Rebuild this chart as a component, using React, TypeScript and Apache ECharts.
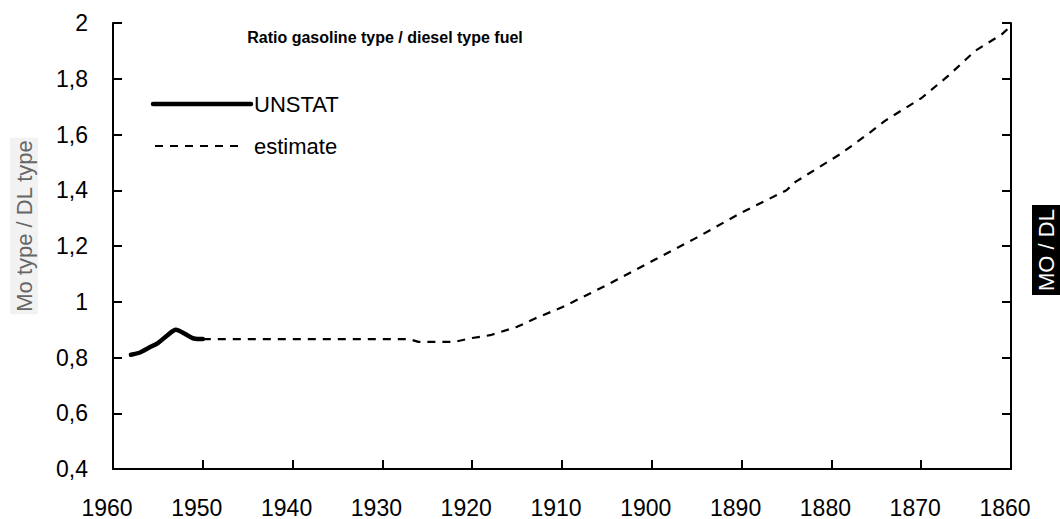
import React, { useEffect, useRef } from "react";
import * as echarts from "echarts";

const unstatYears = [1958, 1957, 1956, 1955, 1954, 1953, 1952, 1951, 1950];
const unstatValues = [0.81, 0.818, 0.835, 0.852, 0.878, 0.9, 0.885, 0.868, 0.866];

const estimateYears = [1950, 1927, 1926, 1922, 1920, 1918, 1917, 1915, 1913, 1910, 1905, 1900, 1895, 1890, 1885, 1884, 1880, 1879, 1876, 1874, 1870, 1867, 1865, 1864, 1863, 1861, 1860];
const estimateValues = [0.866, 0.866, 0.856, 0.856, 0.87, 0.88, 0.89, 0.91, 0.94, 0.98, 1.06, 1.145, 1.23, 1.32, 1.4, 1.43, 1.51, 1.53, 1.6, 1.65, 1.73, 1.81, 1.87, 1.9, 1.92, 1.96, 1.99];

const seriesNames = ["UNSTAT", "estimate"];
const yTicks = [0.4, 2, 0.2];
const xRange = [1860, 1960, 10];

const FONT = "Liberation Sans, Arial, sans-serif";

export default function App() {
  const ref = useRef<HTMLDivElement>(null);
  useEffect(() => {
    if (!ref.current) return;
    const chart = echarts.init(ref.current, undefined, { renderer: "svg" });
    const fmt = (v: number) => String(+v.toFixed(1)).replace(".", ",");
    const axisCommon = {
      axisLine: { show: true, lineStyle: { color: "#000", width: 2 } },
      axisTick: { show: true, inside: true, length: 9, lineStyle: { color: "#000", width: 2 } },
      splitLine: { show: false },
    };
    chart.setOption({
      animation: false,
      backgroundColor: "#ffffff",
      grid: { left: 113, right: 49, top: 23, bottom: 50, containLabel: false },
      xAxis: {
        type: "value",
        min: xRange[0],
        max: xRange[1],
        interval: xRange[2],
        inverse: true,
        ...axisCommon,
        axisLabel: {
          color: "#000",
          fontSize: 23,
          fontFamily: FONT,
          margin: 27,
          padding: [0, 12, 0, 0],
          formatter: (v: number) => String(v),
        },
      },
      yAxis: [
        {
          type: "value",
          min: yTicks[0],
          max: yTicks[1],
          interval: yTicks[2],
          position: "left",
          ...axisCommon,
          axisLabel: { color: "#000", fontSize: 23, fontFamily: FONT, margin: 25, formatter: fmt },
        },
        {
          type: "value",
          min: yTicks[0],
          max: yTicks[1],
          interval: yTicks[2],
          position: "right",
          ...axisCommon,
          axisLabel: { show: false },
        },
      ],
      graphic: [
        {
          type: "text",
          x: 385,
          y: 37,
          style: {
            text: "Ratio gasoline type / diesel type fuel",
            font: "bold 16px " + FONT,
            fill: "#000",
            align: "center",
            verticalAlign: "middle",
          },
        },
        {
          type: "line",
          shape: { x1: 153, y1: 104, x2: 251, y2: 104 },
          style: { stroke: "#000", lineWidth: 4.5, lineCap: "round" },
        },
        {
          type: "text",
          x: 254,
          y: 104,
          style: {
            text: seriesNames[0],
            font: "22px " + FONT,
            fill: "#000",
            align: "left",
            verticalAlign: "middle",
          },
        },
        {
          type: "line",
          shape: { x1: 155, y1: 146, x2: 243, y2: 146 },
          style: { stroke: "#000", lineWidth: 2, lineDash: [8, 7] },
        },
        {
          type: "text",
          x: 254,
          y: 146,
          style: {
            text: seriesNames[1],
            font: "22px " + FONT,
            fill: "#000",
            align: "left",
            verticalAlign: "middle",
          },
        },
        {
          type: "text",
          x: 24,
          y: 226,
          rotation: Math.PI / 2,
          style: {
            text: "Mo type / DL type",
            font: "22px " + FONT,
            fill: "#666",
            align: "center",
            verticalAlign: "middle",
            backgroundColor: "#f2f2f2",
            padding: [3, 2, 3, 2],
          },
        },
        {
          type: "text",
          x: 1046,
          y: 250,
          rotation: Math.PI / 2,
          style: {
            text: "MO / DL",
            font: "22px " + FONT,
            fill: "#fff",
            align: "center",
            verticalAlign: "middle",
            backgroundColor: "#000",
            padding: [3, 4, 3, 4],
          },
        },
      ],
      series: [
        {
          name: seriesNames[0],
          type: "line",
          symbol: "none",
          smooth: 0.3,
          data: unstatYears.map((y, i) => [y, unstatValues[i]]),
          lineStyle: { color: "#000", width: 4.5, cap: "round", join: "round" },
          itemStyle: { color: "#000" },
          z: 3,
        },
        {
          name: seriesNames[1],
          type: "line",
          symbol: "none",
          data: estimateYears.map((y, i) => [y, estimateValues[i]]),
          lineStyle: { color: "#000", width: 2.2, type: [8, 7] },
          itemStyle: { color: "#000" },
          z: 2,
        },
      ],
    });
    return () => chart.dispose();
  }, []);
  return (
    <div
      ref={ref}
      style={{ position: "fixed", left: 0, top: 0, width: 1060, height: 519 }}
    />
  );
}
